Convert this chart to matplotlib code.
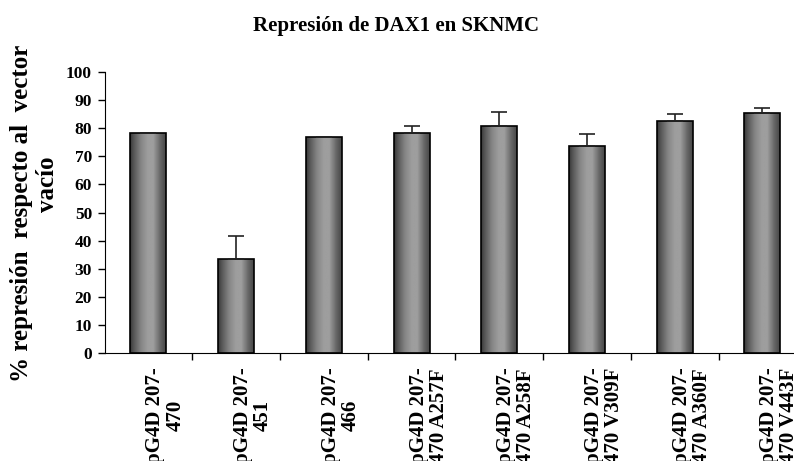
import numpy as np
import matplotlib
matplotlib.use("Agg")
import matplotlib.pyplot as plt
import matplotlib.transforms as mtransforms

plt.rcParams["font.family"] = ["Liberation Serif", "DejaVu Serif"]
plt.rcParams["font.weight"] = "bold"

# datos
construcciones = ["pG4D 207-\n470", "pG4D 207-\n451", "pG4D 207-\n466",
                  "pG4D 207-\n470 A257F", "pG4D 207-\n470 A258F",
                  "pG4D 207-\n470 V309F", "pG4D 207-\n470 A360F",
                  "pG4D 207-\n470 V443F"]
represion = [78.2, 33.5, 76.8, 78.2, 80.7, 73.7, 82.6, 85.3]
error = [0.2, 8.2, 0.2, 2.7, 5.2, 4.4, 2.5, 1.8]

fig = plt.figure(figsize=(7.94, 4.61), dpi=100)
ax = fig.add_axes([0.1317, 0.234, 0.8683, 0.61])

x = np.arange(len(construcciones))
barras = ax.bar(x, represion, width=0.41, color="none", edgecolor="black",
                linewidth=1.2, zorder=3)

# degradado tipo cilindro dentro de cada barra
pos = [0.0, 0.08, 0.3, 0.5, 0.65, 0.85, 1.0]
gris = [0.22, 0.32, 0.52, 0.62, 0.62, 0.4, 0.28]
perfil = np.interp(np.linspace(0, 1, 64), pos, gris)[None, :]
for b in barras:
    x0, y0 = b.get_x(), b.get_y()
    im = ax.imshow(perfil, cmap="gray", vmin=0, vmax=1, aspect="auto",
                   extent=[x0, x0 + b.get_width(), y0, y0 + b.get_height()],
                   zorder=2)
    im.set_clip_path(b)

ax.errorbar(x, represion, yerr=[np.zeros(len(error)), error], fmt="none",
            ecolor="#222222", elinewidth=1.2, capsize=5.5, capthick=1.2, zorder=4)

ax.set_xlim(-0.5, 7.36)
ax.set_ylim(0, 100)
ax.set_yticks(range(0, 101, 10))
ax.tick_params(axis="y", direction="out", length=5, width=1, labelsize=12.5, pad=4)

ax.set_xticks(x)
ax.set_xticklabels(construcciones, rotation=90, ha="center", va="top",
                   multialignment="center", fontsize=15, linespacing=1.0)
ax.tick_params(axis="x", length=0, pad=10)
ax.set_xticks(np.arange(0.5, 7.5, 1), minor=True)
ax.tick_params(axis="x", which="minor", direction="out", length=5, width=1)
desplazar = mtransforms.ScaledTranslation(0.17, 0, fig.dpi_scale_trans)
for t in ax.get_xticklabels():
    t.set_transform(t.get_transform() + desplazar)

ax.spines["top"].set_visible(False)
ax.spines["right"].set_visible(False)
ax.set_autoscale_on(False)

fig.text(396 / 794, 1 - 26 / 461, "Represión de DAX1 en SKNMC",
         ha="center", va="center", fontsize=15, fontweight="bold")
fig.text(22 / 794, 1 - 213 / 461, "% represión  respecto al  vector",
         rotation=90, ha="center", va="center", fontsize=18, fontweight="bold")
fig.text(47 / 794, 1 - 184 / 461, "vacío",
         rotation=90, ha="center", va="center", fontsize=18, fontweight="bold")

fig.savefig("out.png", dpi=100)
